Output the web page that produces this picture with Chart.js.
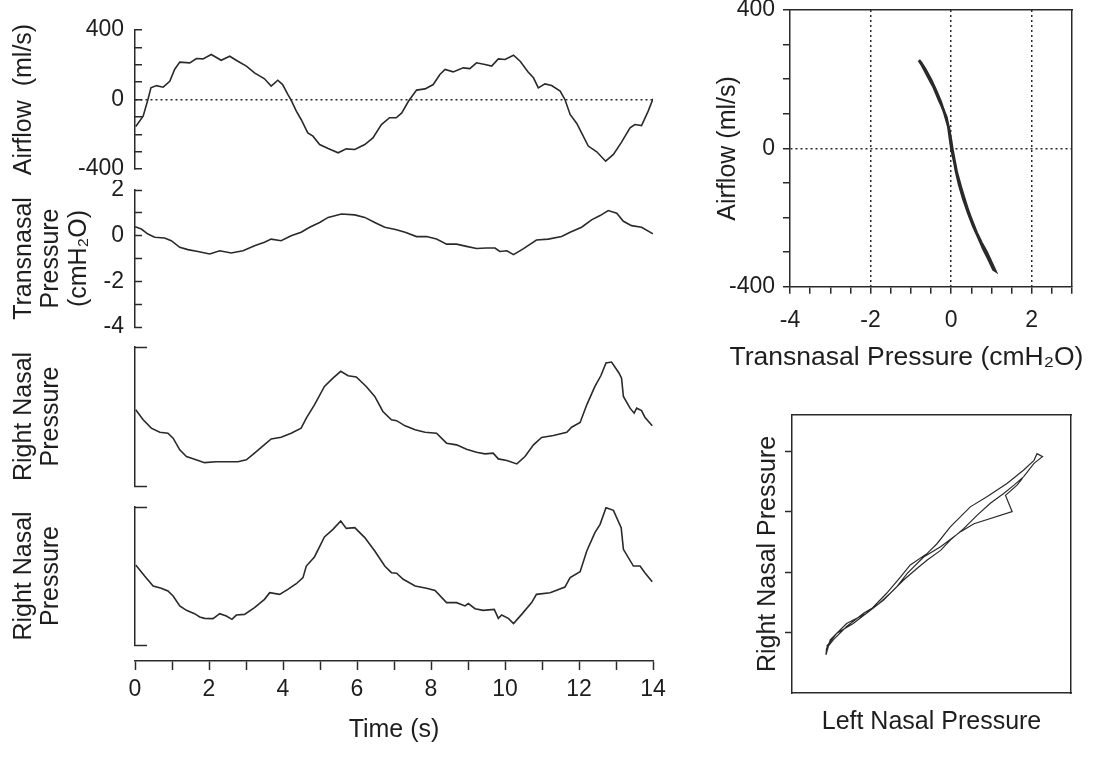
<!DOCTYPE html>
<html>
<head>
<meta charset="utf-8">
<script src="https://cdn.jsdelivr.net/npm/chart.js@4.4.1/dist/chart.umd.min.js"></script>
<style>
  body { margin: 0; background: #fff; }
  #page { position: relative; width: 1107px; height: 758px; overflow: hidden; }
  canvas { position: absolute; }
</style>
</head>
<body>
<div id="page">
  <canvas id="airflowChart" width="680" height="185" style="left:0px;top:0px"></canvas>
  <canvas id="pressureChart" width="680" height="160" style="left:0px;top:180px"></canvas>
  <canvas id="nasalTopChart" width="680" height="160" style="left:0px;top:340px"></canvas>
  <canvas id="nasalBottomChart" width="680" height="150" style="left:0px;top:500px"></canvas>
  <canvas id="timeAxis" width="680" height="108" style="left:0px;top:650px"></canvas>
  <canvas id="loopChart" width="417" height="380" style="left:690px;top:0px"></canvas>
  <canvas id="nasalLoopChart" width="417" height="358" style="left:690px;top:400px"></canvas>
</div>
<script>
// airflow trace (ml/s)
const airflowTime = [
  0.02, 0.22, 0.35, 0.43, 0.58, 0.76, 0.94, 1.07, 1.21, 1.48,
  1.66, 1.84, 2.06, 2.33, 2.56, 2.78, 3.01, 3.23, 3.50, 3.68,
  3.86, 3.99, 4.13, 4.22, 4.36, 4.49, 4.67, 4.81, 4.99, 5.22,
  5.49, 5.71, 5.94, 6.21, 6.43, 6.66, 6.88, 7.06, 7.21, 7.39,
  7.61, 7.84, 8.06, 8.24, 8.38, 8.60, 8.87, 9.05, 9.23, 9.46,
  9.64, 9.82, 10.00, 10.23, 10.41, 10.63, 10.77, 10.90, 11.08, 11.26,
  11.49, 11.62, 11.76, 11.94, 12.07, 12.25, 12.48, 12.72, 12.93, 13.15,
  13.38, 13.51, 13.69, 13.87, 14.00
]
const airflowValue = [
  -155, -96, 0, 67, 80, 71, 105, 173, 215, 211,
  236, 234, 259, 226, 249, 220, 192, 153, 119, 77,
  111, 86, 29, -4, -67, -115, -192, -211, -259, -282,
  -307, -284, -288, -259, -221, -144, -105, -105, -77, -10,
  54, 61, 86, 144, 173, 159, 182, 178, 211, 201,
  192, 234, 230, 255, 220, 157, 125, 67, 90, 80,
  48, 0, -86, -138, -192, -268, -301, -355, -316, -245,
  -163, -144, -150, -67, 4
]

// transnasal pressure trace (cmH2O)
const pressureTime = [
  0.00, 0.17, 0.35, 0.53, 0.80, 0.98, 1.21, 1.43, 1.70, 2.02,
  2.29, 2.60, 2.92, 3.23, 3.50, 3.68, 3.95, 4.22, 4.49, 4.72,
  4.99, 5.22, 5.58, 5.94, 6.21, 6.48, 6.75, 7.04, 7.30, 7.61,
  7.88, 8.15, 8.42, 8.69, 8.96, 9.23, 9.50, 9.73, 9.86, 10.05,
  10.23, 10.49, 10.85, 11.17, 11.53, 11.76, 12.07, 12.34, 12.57, 12.79,
  13.02, 13.20, 13.42, 13.69, 14.00
]
const pressureValue = [
  0.39, 0.29, 0.07, -0.07, -0.10, -0.22, -0.51, -0.61, -0.69, -0.80,
  -0.66, -0.76, -0.66, -0.44, -0.29, -0.15, -0.22, 0.00, 0.15, 0.37,
  0.58, 0.80, 0.95, 0.91, 0.80, 0.58, 0.37, 0.27, 0.15, -0.04,
  -0.04, -0.15, -0.37, -0.37, -0.47, -0.56, -0.54, -0.54, -0.69, -0.66,
  -0.83, -0.58, -0.19, -0.15, -0.04, 0.15, 0.37, 0.69, 0.88, 1.10,
  0.98, 0.63, 0.44, 0.37, 0.08
]

// upper nasal pressure trace (arbitrary units, bracket = 0..100)
const nasalTopTime = [
  0.02, 0.22, 0.44, 0.67, 0.89, 1.03, 1.21, 1.39, 1.61, 1.88,
  2.20, 2.51, 2.78, 3.01, 3.23, 3.46, 3.68, 3.95, 4.22, 4.49,
  4.63, 4.85, 5.12, 5.35, 5.56, 5.76, 5.98, 6.25, 6.48, 6.70,
  6.93, 7.07, 7.30, 7.57, 7.84, 8.15, 8.42, 8.69, 8.96, 9.23,
  9.46, 9.68, 9.82, 10.05, 10.32, 10.54, 10.77, 10.99, 11.31, 11.67,
  11.80, 12.03, 12.21, 12.43, 12.59, 12.73, 12.88, 13.08, 13.15, 13.20,
  13.38, 13.49, 13.56, 13.69, 13.78, 13.98
]
const nasalTopValue = [
  54.8, 47.6, 41.6, 38.7, 38.0, 34.4, 26.0, 21.2, 19.2, 16.8,
  17.5, 17.5, 17.5, 18.8, 23.6, 28.8, 33.9, 35.1, 38.0, 41.6,
  48.8, 58.4, 71.6, 77.6, 82.5, 79.3, 78.4, 71.6, 64.4, 53.6,
  47.6, 47.0, 43.3, 40.4, 38.7, 38.0, 30.8, 29.6, 26.4, 24.3,
  23.1, 23.6, 19.5, 18.3, 15.9, 21.2, 29.6, 34.9, 36.3, 38.7,
  42.3, 45.7, 58.4, 71.6, 79.3, 88.5, 89.2, 81.3, 77.6, 64.4,
  56.0, 52.4, 56.0, 54.3, 49.5, 43.3
]

// lower nasal pressure trace (arbitrary units, bracket = 0..100)
const nasalBottomTime = [
  0.02, 0.26, 0.49, 0.71, 0.89, 1.03, 1.21, 1.39, 1.61, 1.75,
  1.88, 2.11, 2.29, 2.47, 2.62, 2.74, 2.96, 3.23, 3.50, 3.64,
  3.91, 4.13, 4.36, 4.54, 4.63, 4.85, 5.12, 5.35, 5.56, 5.71,
  5.94, 6.21, 6.48, 6.75, 6.93, 7.07, 7.25, 7.57, 7.88, 8.11,
  8.42, 8.69, 8.92, 9.01, 9.19, 9.41, 9.71, 9.82, 9.91, 10.09,
  10.23, 10.45, 10.72, 10.85, 11.22, 11.62, 11.76, 12.03, 12.21, 12.43,
  12.57, 12.73, 12.93, 13.14, 13.20, 13.47, 13.65, 13.78, 13.98
]
const nasalBottomValue = [
  58.0, 50.0, 42.8, 41.1, 39.1, 35.5, 28.3, 25.1, 22.7, 20.3,
  19.3, 19.1, 22.7, 21.0, 18.6, 21.7, 22.2, 27.1, 33.1, 37.9,
  36.7, 40.3, 44.4, 48.8, 57.2, 63.8, 78.3, 83.8, 89.9, 84.5,
  85.0, 77.8, 68.1, 57.2, 52.4, 52.0, 47.6, 42.8, 41.1, 39.6,
  30.7, 30.7, 28.3, 30.0, 26.3, 25.1, 25.8, 19.3, 21.7, 19.3,
  15.5, 22.2, 30.7, 36.7, 37.9, 42.0, 48.8, 53.1, 68.1, 81.4,
  87.4, 99.5, 97.6, 85.0, 69.3, 57.2, 57.2, 52.4, 45.9
]

// pressure-flow loop (top right)
const loopPressure = [
  -0.77, -0.60, -0.44, -0.30, -0.19, -0.07, 0.01, 0.10, 0.18, 0.28, 0.38, 0.50, 0.63, 0.75, 0.88, 0.98, 1.09,
  1.05, 0.92, 0.80, 0.68, 0.55, 0.42, 0.30, 0.20, 0.12, 0.05, 0.00, -0.06, -0.16, -0.26, -0.38, -0.50, -0.64, -0.75, -0.80,
  -0.72, -0.56, -0.40, -0.24, -0.12, -0.03, 0.04, 0.14, 0.24, 0.34, 0.46, 0.58, 0.70, 0.82, 0.95, 1.03
]
const loopAirflow = [
  251, 215, 179, 140, 112, 64, -3, -50, -89, -128, -166, -205, -243, -272, -300, -325, -353,
  -350, -318, -290, -258, -225, -185, -145, -105, -65, -20, 20, 60, 100, 135, 168, 198, 228, 248, 255,
  240, 205, 170, 125, 90, 40, -10, -70, -112, -150, -195, -232, -262, -288, -318, -340
]

// left vs right nasal pressure (bottom right)
const leftNasal = [
  0.57, 0.74, 1.01, 1.29, 1.56, 1.79, 1.95, 2.23, 2.39, 2.61, 2.94, 3.22, 3.55, 3.82, 3.99, 4.04, 4.13,
  3.99, 3.82, 3.66, 3.49, 3.27, 3.05, 2.83, 2.61, 2.45, 2.23, 2.06, 1.84, 1.62, 1.40, 1.18, 0.90, 0.68, 0.57, 0.56,
  0.63, 0.90, 1.23, 1.51, 1.73, 1.90, 2.17, 2.45, 2.78, 3.00, 3.63, 3.52, 3.71, 3.80
]
const rightNasal = [
  0.77, 0.99, 1.15, 1.37, 1.65, 1.92, 2.12, 2.31, 2.47, 2.75, 3.08, 3.25, 3.47, 3.69, 3.85, 3.96, 3.91,
  3.80, 3.58, 3.44, 3.30, 3.14, 2.94, 2.72, 2.53, 2.36, 2.20, 2.06, 1.87, 1.65, 1.45, 1.32, 1.10, 0.88, 0.74, 0.63,
  0.88, 1.15, 1.32, 1.54, 1.76, 1.98, 2.25, 2.42, 2.67, 2.80, 3.00, 3.27, 3.44, 3.55
]

const INK = '#2a2a2a'
const NONE = 'rgba(0,0,0,0)'
const TITLE_FONT = { size: 25, lineHeight: 1.1 }

Chart.defaults.font.family = 'Liberation Sans, Arial, Helvetica, sans-serif'
Chart.defaults.font.size = 23
Chart.defaults.color = '#1e1e1e'

const baseOptions = {
  responsive: false,
  animation: false,
  devicePixelRatio: 1,
  plugins: { legend: { display: false }, tooltip: { enabled: false } }
}

function pairs(xs, ys) {
  return xs.map((x, i) => ({ x: x, y: ys[i] }))
}

// keep end labels from shrinking the plot area
function fixWidth(w) {
  return s => { s.width = w; s.paddingTop = 0; s.paddingBottom = 0 }
}

function traceChart(id, times, values, yScale, padTop, padBottom) {
  return new Chart(document.getElementById(id), {
    type: 'line',
    data: {
      datasets: [{
        data: pairs(times, values),
        borderColor: INK,
        borderWidth: 1.6,
        pointRadius: 0,
        tension: 0
      }]
    },
    options: {
      ...baseOptions,
      layout: { padding: { left: 0, right: 27, top: padTop, bottom: padBottom } },
      scales: {
        x: { type: 'linear', min: 0, max: 14, display: false },
        y: yScale
      }
    }
  })
}

// left column y axes, ticks point inwards
function leftAxis(extra) {
  return Object.assign({
    afterFit: fixWidth(135),
    border: { color: INK, width: 1.5 }
  }, extra)
}

traceChart('airflowChart', airflowTime, airflowValue, leftAxis({
  min: -400, max: 400,
  ticks: { stepSize: 100, autoSkip: false, padding: 18, callback: v => v % 400 === 0 ? v : '' },
  grid: {
    color: c => (c.tick && c.tick.value === 0) ? INK : NONE,
    lineWidth: 1.5,
    tickLength: -7, tickColor: INK, tickWidth: 1.5
  },
  border: { color: INK, width: 1.5, dash: [2, 3] },
  title: { display: true, text: 'Airflow  (ml/s)', font: TITLE_FONT, padding: { top: 10, bottom: 0 } }
}), 30, 16)

traceChart('pressureChart', pressureTime, pressureValue, leftAxis({
  min: -4, max: 2,
  ticks: { stepSize: 1, autoSkip: false, padding: 18, callback: v => v % 2 === 0 ? v : '' },
  grid: { drawOnChartArea: false, tickLength: -7, tickColor: INK, tickWidth: 1.5 },
  title: { display: true, text: ['Transnasal', 'Pressure', '(cmH\u2082O)'], font: TITLE_FONT, padding: { top: 10, bottom: 0 } }
}), 10, 13)

traceChart('nasalTopChart', nasalTopTime, nasalTopValue, leftAxis({
  min: 0, max: 100,
  afterBuildTicks: s => { s.ticks = [{ value: 0 }, { value: 100 }] },
  ticks: { display: false },
  grid: { drawOnChartArea: false, tickLength: -12, tickColor: INK, tickWidth: 1.5 },
  title: { display: true, text: ['Right Nasal', 'Pressure'], font: TITLE_FONT, padding: { top: 10, bottom: 0 } }
}), 7, 14)

traceChart('nasalBottomChart', nasalBottomTime, nasalBottomValue, leftAxis({
  min: 0, max: 100,
  afterBuildTicks: s => { s.ticks = [{ value: 0 }, { value: 100 }] },
  ticks: { display: false },
  grid: { drawOnChartArea: false, tickLength: -12, tickColor: INK, tickWidth: 1.5 },
  title: { display: true, text: ['Right Nasal', 'Pressure'], font: TITLE_FONT, padding: { top: 10, bottom: 0 } }
}), 7, 5)

// shared time axis under the four traces
new Chart(document.getElementById('timeAxis'), {
  type: 'line',
  data: { datasets: [] },
  options: {
    ...baseOptions,
    layout: { padding: { left: 135, right: 27, top: 0, bottom: 0 } },
    scales: {
      x: {
        type: 'linear', min: 0, max: 14,
        afterFit: s => { s.height = 97 },
        ticks: { stepSize: 1, autoSkip: false, maxRotation: 0, padding: 6, callback: v => v % 2 === 0 ? v : '' },
        grid: { drawOnChartArea: false, tickLength: 9, tickColor: INK, tickWidth: 1.5 },
        border: { color: INK, width: 1.5 },
        title: { display: true, text: 'Time (s)', font: TITLE_FONT, padding: { top: 0, bottom: 14 } }
      },
      y: { display: false }
    }
  }
})

function frameAxis(axis, position, min, max, size) {
  return {
    type: 'linear', axis: axis, position: position, min: min, max: max,
    afterFit: s => { if (axis === 'x') s.height = size; else s.width = size },
    ticks: { display: false },
    grid: { display: false, drawTicks: false },
    border: { display: true, color: INK, width: 1.5 }
  }
}

// pressure vs flow; the x title is the chart title so it may run past the frame
new Chart(document.getElementById('loopChart'), {
  type: 'scatter',
  data: {
    datasets: [{
      data: pairs(loopPressure, loopAirflow),
      showLine: true,
      borderColor: INK,
      borderWidth: 2.8,
      pointRadius: 0
    }]
  },
  options: {
    ...baseOptions,
    layout: { padding: { left: 28, right: 12, top: 10, bottom: 0 } },
    plugins: {
      ...baseOptions.plugins,
      title: {
        display: true, position: 'bottom',
        text: 'Transnasal Pressure (cmH\u2082O)',
        font: { size: 26.5, lineHeight: 1.1, weight: 'normal' },
        color: '#1e1e1e',
        padding: { top: 0, bottom: 8 }
      }
    },
    scales: {
      x: {
        min: -4, max: 3,
        afterFit: s => { s.height = 56 },
        ticks: { stepSize: 0.5, autoSkip: false, maxRotation: 0, padding: 13, callback: v => v % 2 === 0 ? v : '' },
        grid: {
          color: c => (c.tick && [-2, 0, 2].includes(c.tick.value)) ? INK : NONE,
          lineWidth: 1.5,
          tickLength: 7, tickColor: INK, tickWidth: 1.5
        },
        border: { color: INK, width: 1.5, dash: [2, 3] }
      },
      y: {
        min: -400, max: 400,
        afterFit: fixWidth(72),
        ticks: { stepSize: 100, autoSkip: false, padding: 8, callback: v => v % 400 === 0 ? v : '' },
        grid: {
          color: c => (c.tick && c.tick.value === 0) ? INK : NONE,
          lineWidth: 1.5,
          tickLength: 7, tickColor: INK, tickWidth: 1.5
        },
        border: { color: INK, width: 1.5, dash: [2, 3] },
        title: { display: true, text: 'Airflow (ml/s)', font: TITLE_FONT, padding: { top: -4, bottom: 0 } }
      },
      xTop: frameAxis('x', 'top', -4, 3, 0),
      yRight: frameAxis('y', 'right', -400, 400, 23)
    }
  }
})

// left vs right nasal pressure
new Chart(document.getElementById('nasalLoopChart'), {
  type: 'scatter',
  data: {
    datasets: [{
      data: pairs(leftNasal, rightNasal),
      showLine: true,
      borderColor: INK,
      borderWidth: 1.2,
      pointRadius: 0
    }]
  },
  options: {
    ...baseOptions,
    layout: { padding: { left: 0, right: 36, top: 15, bottom: 0 } },
    scales: {
      x: {
        min: 0, max: 4.6,
        afterFit: s => { s.height = 65 },
        ticks: { display: false },
        grid: { display: false, drawTicks: false },
        border: { color: INK, width: 1.5 },
        title: { display: true, text: 'Left Nasal Pressure', font: TITLE_FONT, padding: { top: 0, bottom: 22 } }
      },
      y: {
        min: 0, max: 4.6,
        afterFit: fixWidth(102),
        afterBuildTicks: s => { s.ticks = [1, 2, 3, 4].map(v => ({ value: v })) },
        ticks: { display: false },
        grid: { drawOnChartArea: false, tickLength: 7, tickColor: INK, tickWidth: 1.5 },
        border: { color: INK, width: 1.5 },
        title: { display: true, text: 'Right Nasal Pressure', font: TITLE_FONT, padding: { top: 64, bottom: 0 } }
      },
      xTop: frameAxis('x', 'top', 0, 4.6, 0),
      yRight: frameAxis('y', 'right', 0, 4.6, 0)
    }
  }
})
</script>
</body>
</html>
